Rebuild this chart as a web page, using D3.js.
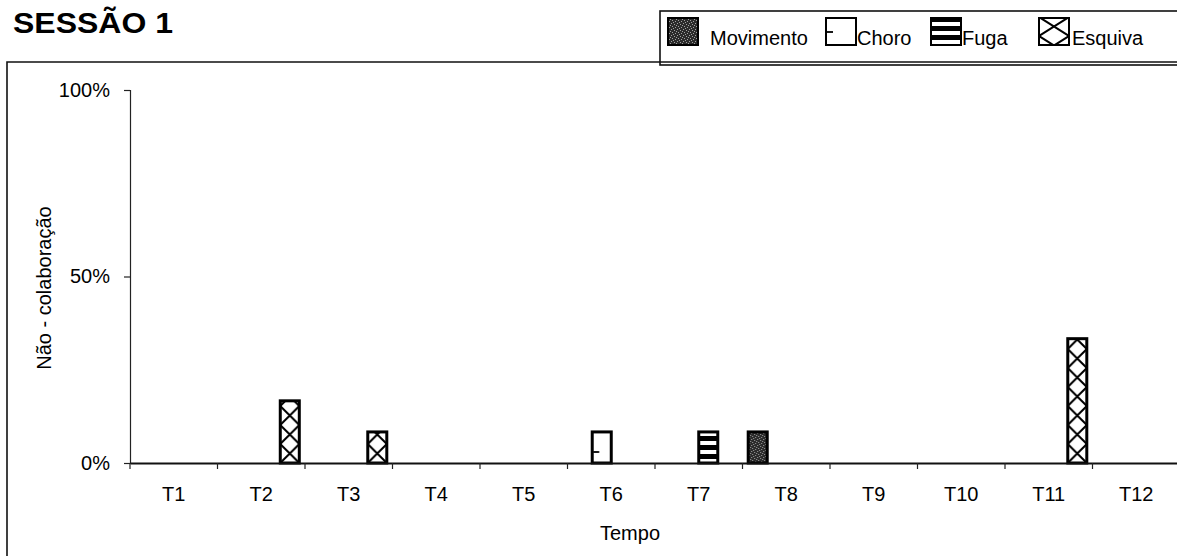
<!DOCTYPE html>
<html><head><meta charset="utf-8">
<script src="https://cdn.jsdelivr.net/npm/d3@7"></script>
<style>
html,body{margin:0;padding:0;background:#fff;}
svg{display:block;font-family:"Liberation Sans",Arial,sans-serif;}
</style></head>
<body><svg id="c" width="1177" height="556"></svg>
<script>
const categories = ["T1","T2","T3","T4","T5","T6","T7","T8","T9","T10","T11","T12"];
const seriesNames = ["Movimento","Choro","Fuga","Esquiva"];
const movimento = [0,0,0,0,0,0,0,8.33,0,0,0,0];
const choro     = [0,0,0,0,0,8.33,0,0,0,0,0,0];
const fuga      = [0,0,0,0,0,0,8.33,0,0,0,0,0];
const esquiva   = [0,16.67,8.33,0,0,0,0,0,0,0,33.33,0];
const yTicks = [0,50,100];
const title = "SESSÃO 1";
const yTitle = "Não - colaboração";
const xTitle = "Tempo";

const seriesValues = {Movimento: movimento, Choro: choro, Fuga: fuga, Esquiva: esquiva};

const svg = d3.select("#c");
const defs = svg.append("defs");

const x0 = d3.scaleBand().domain(categories).range([130, 1180]).paddingInner(0).paddingOuter(0);
const x1 = d3.scaleBand().domain(seriesNames).range([0, x0.bandwidth()]).paddingInner(0).paddingOuter(0.3);
const y = d3.scaleLinear().domain([0, 100]).range([463, 90]);

// frame & legend box
svg.append("path").attr("d","M7,556 V62 H1190").attr("fill","none").attr("stroke","#111").attr("stroke-width",1.6);
svg.append("rect").attr("x",660).attr("y",11).attr("width",540).attr("height",54)
  .attr("fill","none").attr("stroke","#111").attr("stroke-width",1.6);

// title
svg.append("text").attr("x",13).attr("y",33).attr("font-size",29).attr("font-weight","bold")
  .attr("textLength",160).attr("lengthAdjust","spacingAndGlyphs").attr("fill","#000").text(title);

// pattern builders
function makePattern(id, name, px, py, w) {
  const p = defs.append("pattern").attr("id", id).attr("patternUnits","userSpaceOnUse")
    .attr("x", px).attr("y", py);
  if (name === "Movimento") {
    p.attr("width",6).attr("height",6);
    p.append("rect").attr("width",6).attr("height",6).attr("fill","#2b2b2b");
    [[0,1],[3,0],[4,3],[1,4],[2,2],[5,5]].forEach(([a,b]) =>
      p.append("rect").attr("x",a).attr("y",b).attr("width",1).attr("height",1).attr("fill","#a0a0a0"));
  } else if (name === "Choro") {
    p.attr("width",w).attr("height",26);
    p.append("rect").attr("width",w).attr("height",26).attr("fill","#fff");
    p.append("line").attr("x1",1).attr("x2",7).attr("y1",15).attr("y2",15).attr("stroke","#000").attr("stroke-width",1.8);
  } else if (name === "Fuga") {
    p.attr("width",w).attr("height",9);
    p.append("rect").attr("width",w).attr("height",9).attr("fill","#fff");
    p.append("rect").attr("width",w).attr("height",5).attr("fill","#000");
  } else {
    const h = 19;
    p.attr("width",w).attr("height",h);
    p.append("rect").attr("width",w).attr("height",h).attr("fill","#fff");
    p.append("path").attr("d",`M0,0 L${w},${h} M${w},0 L0,${h}`).attr("stroke","#000").attr("stroke-width",2);
  }
}

// bars
const barData = [];
categories.forEach((c, i) => {
  seriesNames.forEach(s => {
    const v = seriesValues[s][i];
    if (v > 0) barData.push({c, s, v});
  });
});
const bw = x1.bandwidth();
barData.forEach((d, i) => {
  d.x = x0(d.c) + x1(d.s);
  d.id = "pb" + i;
  makePattern(d.id, d.s, d.x, y(0), bw);
});
svg.append("g").selectAll("rect").data(barData).join("rect")
  .attr("x", d => d.x).attr("width", bw)
  .attr("y", d => y(d.v)).attr("height", d => y(0) - y(d.v))
  .attr("fill", d => `url(#${d.id})`).attr("stroke","#000").attr("stroke-width",3);

// y axis
const yAxis = svg.append("g").attr("transform","translate(130,0)")
  .call(d3.axisLeft(y).tickValues(yTicks).tickFormat(d => d + "%").tickSize(6).tickPadding(14));
yAxis.select(".domain").attr("stroke","#222").attr("stroke-width",1.2);
yAxis.selectAll(".tick line").attr("stroke","#222").attr("stroke-width",1.2);
yAxis.selectAll("text").attr("font-size",20).attr("fill","#000").attr("font-family","Liberation Sans, Arial, sans-serif");

// x axis labels
const xAxis = svg.append("g").attr("transform","translate(0,463)")
  .call(d3.axisBottom(x0).tickSize(0).tickPadding(24));
xAxis.select(".domain").attr("stroke","#111").attr("stroke-width",2);
xAxis.selectAll("text").attr("font-size",20).attr("fill","#000").attr("font-family","Liberation Sans, Arial, sans-serif");
// boundary tick marks
const bounds = categories.map(c => x0(c)).concat([x0.range()[1]]);
svg.append("g").selectAll("line").data(bounds).join("line")
  .attr("x1", d => d).attr("x2", d => d).attr("y1",463).attr("y2",469)
  .attr("stroke","#222").attr("stroke-width",1.2);

// axis titles
svg.append("text").attr("transform","translate(51,288) rotate(-90)").attr("text-anchor","middle")
  .attr("font-size",20).attr("fill","#000").text(yTitle);
svg.append("text").attr("x",630).attr("y",540).attr("text-anchor","middle")
  .attr("font-size",20).attr("fill","#000").text(xTitle);

// legend
const legendPos = {Movimento:[668,710], Choro:[826,857], Fuga:[931,962], Esquiva:[1039,1072]};
seriesNames.forEach((s, i) => {
  const [sx, tx] = legendPos[s];
  const id = "lg" + i;
  makePattern(id, s, sx, 17, 30);
  svg.append("rect").attr("x",sx).attr("y",18).attr("width",30).attr("height",27)
    .attr("fill",`url(#${id})`).attr("stroke","#000").attr("stroke-width",2);
  svg.append("text").attr("x",tx).attr("y",45).attr("font-size",20).attr("fill","#000").text(s);
});
</script></body></html>
